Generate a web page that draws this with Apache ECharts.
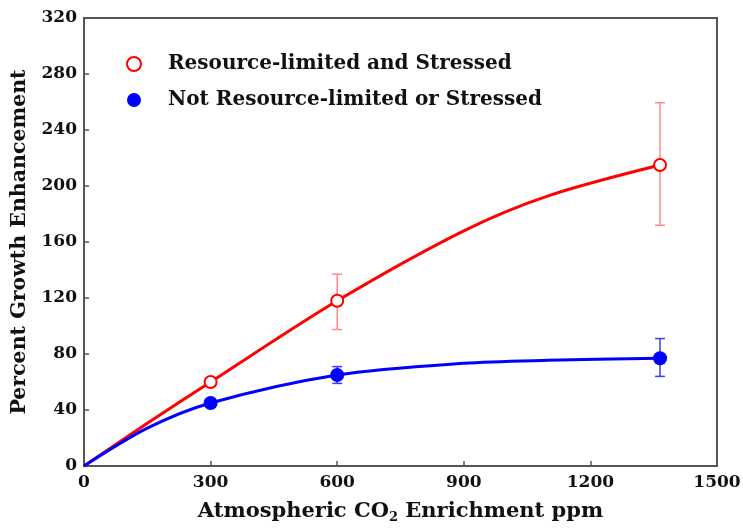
<!DOCTYPE html>
<html>
<head>
<meta charset="utf-8">
<script src="https://cdn.jsdelivr.net/npm/echarts@6/dist/echarts.min.js"></script>
<style>html,body{margin:0;padding:0;background:#fff;}#c{width:743px;height:529px;}</style>
</head>
<body>
<div id="c"></div>
<script>
// Measured points
const xVals = [300, 600, 1365];
const stressedY = [60, 118, 215];
const stressedLow = [null, 97.5, 172];
const stressedHigh = [null, 137, 259.5];
const normalY = [45, 65, 77];
const normalLow = [null, 59, 64];
const normalHigh = [null, 71, 91];
// Fitted curves
const curveX = [0, 150, 300, 600, 900, 1100, 1365];
const stressedCurve = [0, 30.5, 60, 118, 168, 193, 215];
const normalCurve = [0, 27, 45, 65, 73.4, 75.5, 77];
// Axis ticks
const xTicks = [0, 300, 600, 900, 1200, 1500];
const yTicks = [0, 40, 80, 120, 160, 200, 240, 280, 320];

const nameStressed = 'Resource-limited and Stressed';
const nameNormal = 'Not Resource-limited or Stressed';
const FONT = 'DejaVu Serif';
const AX = '#555';

const pairs = (xs, ys) => xs.map((x, i) => [x, ys[i]]);
const errData = (lo, hi) => xVals.map((x, i) => lo[i] == null ? null : [x, lo[i], hi[i]]).filter(d => d);

function errRender(color) {
  return function (params, api) {
    const x = api.value(0), lo = api.value(1), hi = api.value(2);
    const pLo = api.coord([x, lo]), pHi = api.coord([x, hi]);
    const w = 5;
    const st = { stroke: color, lineWidth: 1.5 };
    return {
      type: 'group',
      children: [
        { type: 'line', shape: { x1: pLo[0], y1: pLo[1], x2: pHi[0], y2: pHi[1] }, style: st },
        { type: 'line', shape: { x1: pLo[0] - w, y1: pLo[1], x2: pLo[0] + w, y2: pLo[1] }, style: st },
        { type: 'line', shape: { x1: pHi[0] - w, y1: pHi[1], x2: pHi[0] + w, y2: pHi[1] }, style: st }
      ]
    };
  };
}

const chart = echarts.init(document.getElementById('c'), null, { renderer: 'canvas' });
chart.setOption({
  animation: false,
  backgroundColor: '#fff',
  grid: { left: 84, top: 18, width: 633, height: 448, show: true, borderColor: AX, borderWidth: 2, backgroundColor: 'transparent', outerBoundsMode: 'none', containLabel: false },
  legend: {
    orient: 'vertical', left: 121, top: 49, itemWidth: 58, itemHeight: 14, itemGap: 16,
    textStyle: { fontFamily: FONT, fontWeight: 'bold', fontSize: 20, color: '#111' },
    data: [nameStressed, nameNormal]
  },
  xAxis: {
    type: 'value', min: xTicks[0], max: xTicks[xTicks.length - 1], interval: 300,
    axisLine: { lineStyle: { color: AX, width: 2 } },
    axisTick: { inside: true, length: 5, lineStyle: { color: AX, width: 1.5 } },
    splitLine: { show: false },
    axisLabel: { fontFamily: FONT, fontWeight: 'bold', fontSize: 17, color: '#111', margin: 8, formatter: v => String(v) },
    name: 'Atmospheric CO{sub|2} Enrichment ppm', nameLocation: 'middle', nameGap: 33,
    nameTextStyle: {
      fontFamily: FONT, fontWeight: 'bold', fontSize: 21, color: '#111',
      rich: { sub: { fontFamily: FONT, fontWeight: 'bold', fontSize: 13, color: '#111', padding: [12, 0, 0, 0] } }
    }
  },
  yAxis: {
    type: 'value', min: yTicks[0], max: yTicks[yTicks.length - 1], interval: 40,
    axisLine: { lineStyle: { color: AX, width: 2 } },
    axisTick: { inside: true, length: 5, lineStyle: { color: AX, width: 1.5 } },
    splitLine: { show: false },
    axisLabel: { fontFamily: FONT, fontWeight: 'bold', fontSize: 17, color: '#111', margin: 7, formatter: v => String(v) },
    name: 'Percent Growth Enhancement', nameLocation: 'middle', nameGap: 51,
    nameTextStyle: { fontFamily: FONT, fontWeight: 'bold', fontSize: 20.5, color: '#111' }
  },
  series: [
    { name: 'stressedCurve', type: 'line', data: pairs(curveX, stressedCurve), smooth: 0.3, showSymbol: false, lineStyle: { color: '#ff0000', width: 3 }, z: 2 },
    { name: 'normalCurve', type: 'line', data: pairs(curveX, normalCurve), smooth: 0.3, showSymbol: false, lineStyle: { color: '#0000ff', width: 3 }, z: 2 },
    { name: 'stressedErr', type: 'custom', data: errData(stressedLow, stressedHigh), renderItem: errRender('#ff8a8a'), z: 3 },
    { name: 'normalErr', type: 'custom', data: errData(normalLow, normalHigh), renderItem: errRender('#3a3aff'), z: 3 },
    { name: nameStressed, type: 'scatter', data: pairs(xVals, stressedY), symbol: 'emptyCircle', symbolSize: 12, itemStyle: { color: '#ff0000', borderWidth: 2.5, opacity: 1 }, z: 4 },
    { name: nameNormal, type: 'scatter', data: pairs(xVals, normalY), symbol: 'circle', symbolSize: 14, itemStyle: { color: '#0000ff', opacity: 1 }, z: 4 }
  ]
});
</script>
</body>
</html>
